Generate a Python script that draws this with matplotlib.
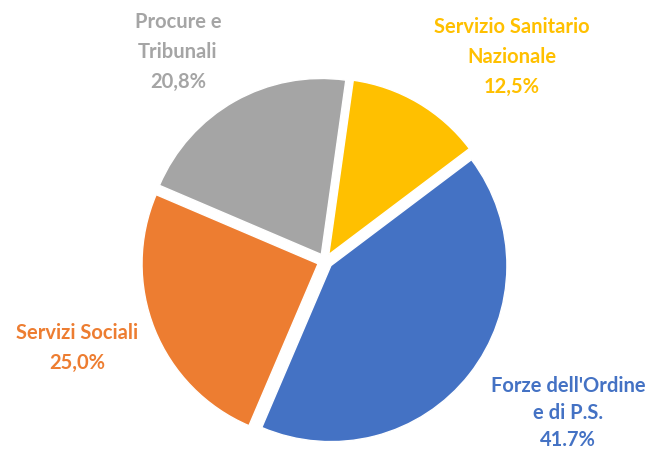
import matplotlib
matplotlib.use("Agg")
import matplotlib.pyplot as plt

categories = ["Servizio Sanitario\nNazionale", "Forze dell'Ordine\ne di P.S.", "Servizi Sociali", "Procure e\nTribunali"]
values = [12.5, 41.7, 25.0, 20.8]
pct_labels = ["12,5%", "41.7%", "25,0%", "20,8%"]
colors = ["#FFC000", "#4472C4", "#ED7D31", "#A5A5A5"]

W, H = 649, 452
fig = plt.figure(figsize=(W / 100, H / 100), dpi=100)
ax = fig.add_axes([0, 0, 1, 1])

cx, cy, r = 325, H - 262, 176
ax.pie(values, colors=colors, startangle=82, counterclock=False,
       center=(cx, cy), radius=r, explode=[7.5] * len(values),
       wedgeprops=dict(linewidth=1.0, edgecolor="white"), frame=True)
ax.set_xlim(0, W)
ax.set_ylim(0, H)
ax.set_aspect("equal")
ax.axis("off")

label_pos = [(512, 57), (568, 413), (77, 348), (178, 52)]
spacing = [1.6, 1.45, 1.6, 1.6]
for cat, pct, col, (x, y), ls in zip(categories, pct_labels, colors, label_pos, spacing):
    ax.text(x, H - y, cat + "\n" + pct, ha="center", va="center", color=col,
            fontsize=14.5, fontweight="bold", family=["Lato", "DejaVu Sans"],
            linespacing=ls)

fig.savefig("out.png", dpi=100)
